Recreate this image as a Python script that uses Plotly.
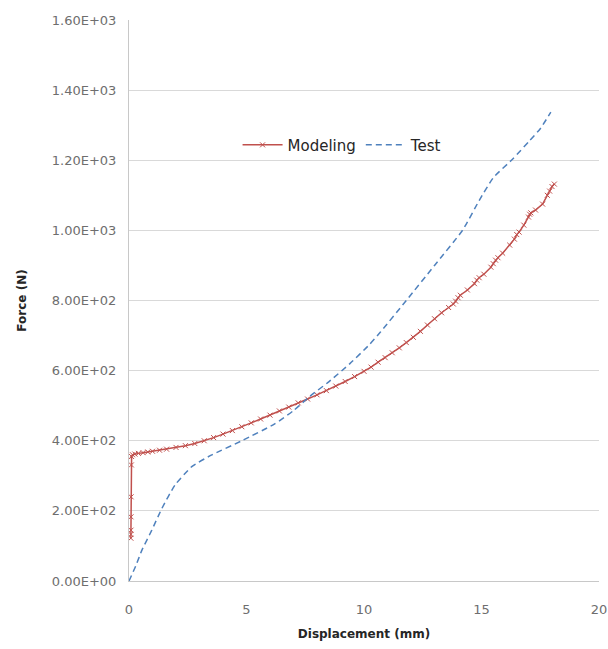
import plotly.graph_objects as go

# Modeling series (displacement mm, force N)
model_disp = [0.08, 0.08, 0.085, 0.085, 0.09, 0.10, 0.11, 0.15, 0.25, 0.40, 0.60, 0.80, 1.0, 1.3, 1.6,
              2.0, 2.4, 2.8, 3.2, 3.6, 4.0, 4.4, 4.8, 5.2, 5.6, 6.0, 6.4, 6.8, 7.2, 7.6, 8.0,
              8.4, 8.8, 9.2, 9.6, 10.0, 10.3, 10.6, 10.9, 11.2, 11.5, 11.8, 12.1, 12.4, 12.7,
              13.0, 13.3, 13.6, 13.8, 13.9, 14.0, 14.1, 14.4, 14.7, 14.8, 14.9, 15.1, 15.4,
              15.5, 15.6, 15.7, 15.9, 16.2, 16.4, 16.5, 16.6, 16.8, 17.0, 17.05, 17.1, 17.3,
              17.6, 17.8, 17.9, 18.0, 18.1]
model_force = [122, 133, 145, 183, 240, 331, 355, 360, 362, 364, 366, 368, 370, 373, 376,
               381, 386, 392, 400, 409, 419, 429, 440, 451, 462, 473, 485, 496, 508, 519, 531,
               543, 556, 569, 583, 598, 610, 624, 637, 651, 665, 680, 695, 712, 730,
               748, 765, 780, 790, 798, 808, 815, 830, 848, 858, 865, 875, 895,
               905, 915, 922, 935, 958, 975, 988, 995, 1015, 1038, 1046, 1050, 1058,
               1075, 1100, 1112, 1125, 1132]

# Test series
test_disp = [0.0, 0.3, 0.55, 0.97, 1.4, 1.96, 2.67, 3.5, 4.8, 6.2, 7.0, 7.7, 8.5, 9.4,
             10.2, 10.7, 11.8, 13.0, 14.2, 14.9, 15.5, 16.35, 17.05, 17.5, 17.95]
test_force = [0, 45, 88, 145, 207, 274, 326, 359, 400, 448, 486, 527, 568, 620,
              672, 710, 800, 900, 1001, 1085, 1150, 1205, 1256, 1290, 1337]

y_tickvals = [0, 200, 400, 600, 800, 1000, 1200, 1400, 1600]
y_ticktext = ["0.00E+00", "2.00E+02", "4.00E+02", "6.00E+02", "8.00E+02",
              "1.00E+03", "1.20E+03", "1.40E+03", "1.60E+03"]
x_tickvals = [0, 5, 10, 15, 20]

fig = go.Figure()
fig.add_trace(go.Scatter(
    x=model_disp, y=model_force, name="Modeling", mode="lines+markers",
    line=dict(color="#C0504D", width=1.5),
    marker=dict(symbol="x-thin", size=5, color="#C0504D", line=dict(width=1, color="#C0504D")),
))
fig.add_trace(go.Scatter(
    x=test_disp, y=test_force, name="Test", mode="lines",
    line=dict(color="#4F81BD", width=1.5, dash="6px,4px", shape="spline", smoothing=0.5),
))

fig.update_layout(
    width=608, height=649,
    margin=dict(l=129, r=9, t=20, b=68),
    paper_bgcolor="white", plot_bgcolor="white",
    font=dict(family="DejaVu Sans", size=12, color="#6E6E6E"),
    showlegend=True,
    legend=dict(orientation="h", x=0.231, y=0.777, xanchor="left", yanchor="middle",
                font=dict(size=15, color="#262626"), bgcolor="rgba(0,0,0,0)",
                itemwidth=40),
    xaxis=dict(range=[0, 20], tickvals=x_tickvals, showgrid=False, zeroline=False,
               showline=True, linecolor="#C8C8C8", linewidth=1, ticks="", automargin=False,
               tickfont=dict(size=13, color="#6E6E6E"), ticklabelstandoff=16,
               title=dict(text="<b>Displacement (mm)</b>", font=dict(size=12, color="#262626"), standoff=14)),
    yaxis=dict(range=[0, 1600], tickvals=y_tickvals, ticktext=y_ticktext, showgrid=True,
               gridcolor="#D9D9D9", gridwidth=1, zeroline=False, automargin=False,
               showline=True, linecolor="#C8C8C8", linewidth=1, ticks="",
               tickfont=dict(size=13, color="#6E6E6E"), ticklabelstandoff=9,
               title=dict(text="<b>Force (N)</b>", font=dict(size=12, color="#262626"), standoff=22)),
)

fig.write_html("out.html")
